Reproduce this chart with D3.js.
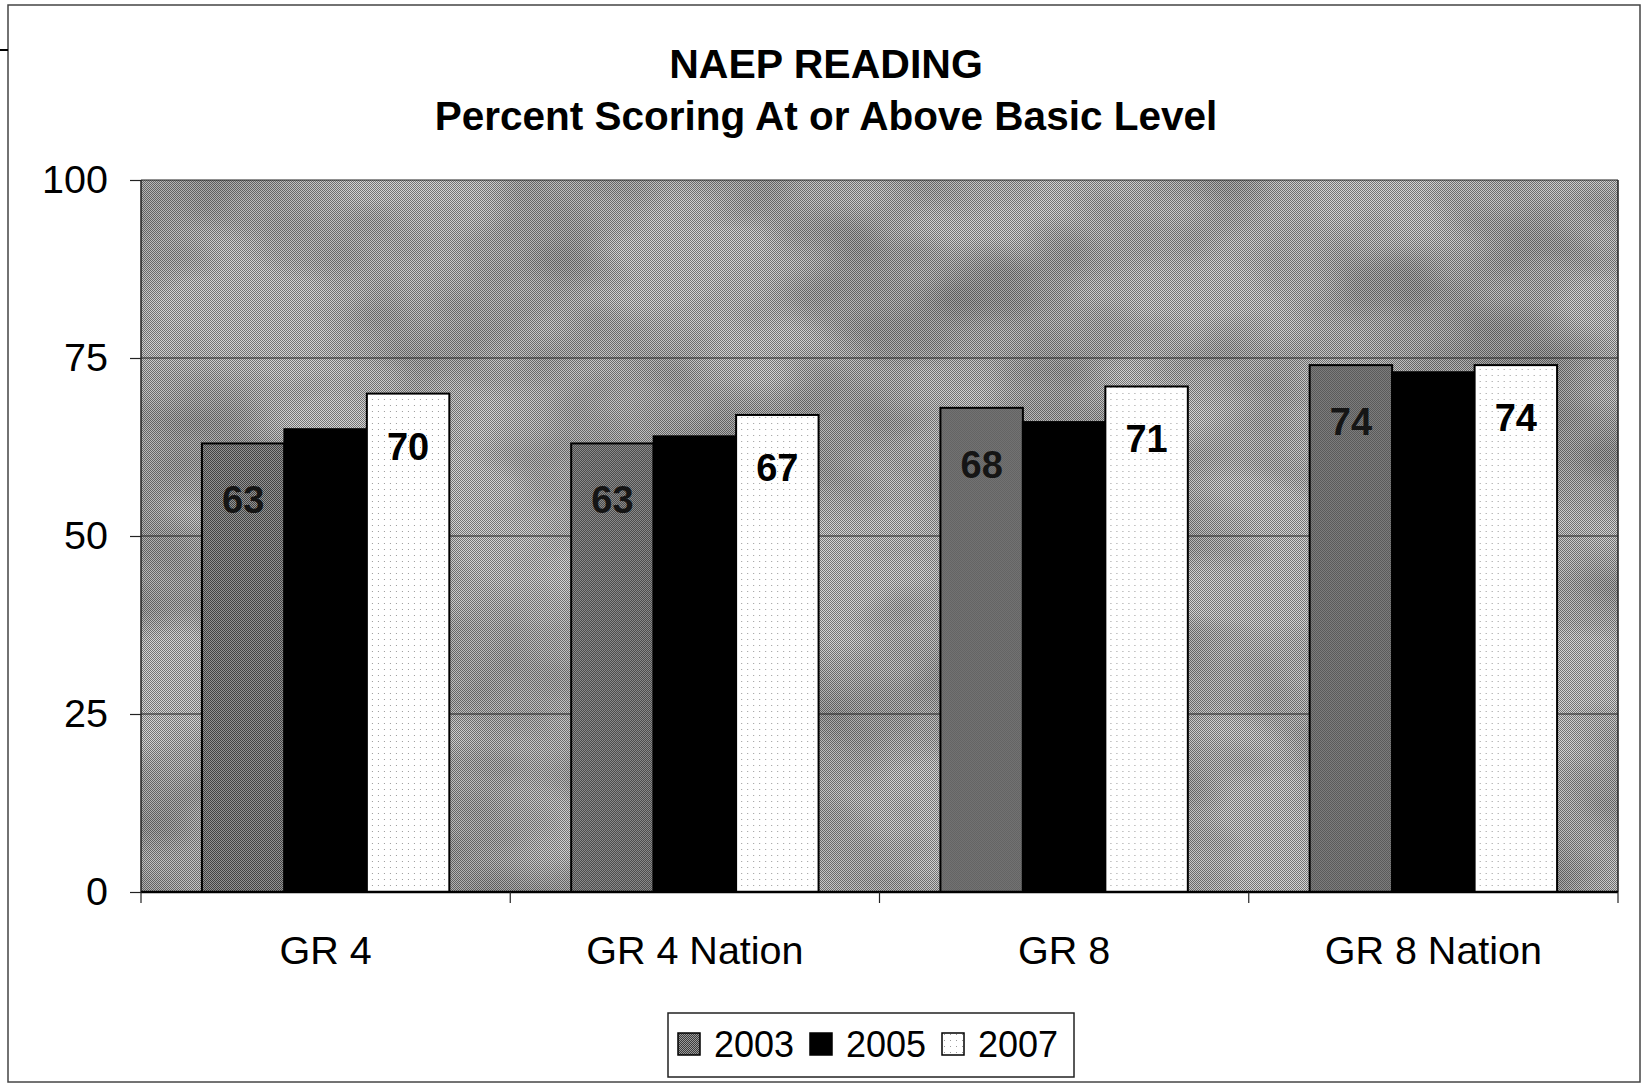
<!DOCTYPE html>
<html>
<head>
<meta charset="utf-8">
<script src="https://cdn.jsdelivr.net/npm/d3@7"></script>
<style>
  body { margin: 0; background: #fff; }
  svg { display: block; font-family: "Liberation Sans", Arial, sans-serif; }
</style>
</head>
<body>
<svg id="chart" width="1644" height="1083"></svg>
<script>
// chart values
var categories = ["GR 4", "GR 4 Nation", "GR 8", "GR 8 Nation"];
var years = ["2003", "2005", "2007"];
var values2003 = [63, 63, 68, 74];
var values2005 = [65, 64, 66, 73];
var values2007 = [70, 67, 71, 74];
var yTicks = [0, 25, 50, 75, 100];
var titleLines = ["NAEP READING", "Percent Scoring At or Above Basic Level"];

var seriesValues = { "2003": values2003, "2005": values2005, "2007": values2007 };
var labelled = { "2003": true, "2005": false, "2007": true };

var svg = d3.select("#chart");
var plot = { left: 141, top: 180, right: 1618, bottom: 892 };

var defs = svg.append("defs");

// dithered grey for the plot background
var bgPat = defs.append("pattern").attr("id", "bgPat")
    .attr("width", 2).attr("height", 2).attr("patternUnits", "userSpaceOnUse");
bgPat.append("rect").attr("width", 2).attr("height", 2).attr("fill", "#d4d4d4");
bgPat.append("rect").attr("width", 1).attr("height", 1).attr("fill", "#747474");
bgPat.append("rect").attr("x", 1).attr("y", 1).attr("width", 1).attr("height", 1).attr("fill", "#747474");

// darker dither for 2003 bars
var p03 = defs.append("pattern").attr("id", "p2003")
    .attr("width", 2).attr("height", 2).attr("patternUnits", "userSpaceOnUse");
p03.append("rect").attr("width", 2).attr("height", 2).attr("fill", "#9a9a9a");
p03.append("rect").attr("width", 1).attr("height", 1).attr("fill", "#3c3c3c");
p03.append("rect").attr("x", 1).attr("y", 1).attr("width", 1).attr("height", 1).attr("fill", "#3c3c3c");

// white with sparse dots for 2007 bars
var p07 = defs.append("pattern").attr("id", "p2007")
    .attr("width", 6).attr("height", 6).attr("patternUnits", "userSpaceOnUse");
p07.append("rect").attr("width", 6).attr("height", 6).attr("fill", "#fff");
p07.append("rect").attr("x", 2).attr("y", 3).attr("width", 1).attr("height", 1).attr("fill", "#9a9a9a");

// soft blotchy shading over the background
var mottle = defs.append("filter").attr("id", "mottle")
    .attr("x", 0).attr("y", 0).attr("width", 1).attr("height", 1);
mottle.append("feTurbulence").attr("type", "fractalNoise")
    .attr("baseFrequency", "0.005 0.008").attr("numOctaves", 3).attr("seed", 7);
mottle.append("feColorMatrix").attr("type", "matrix")
    .attr("values", "0 0 0 0 0  0 0 0 0 0  0 0 0 0 0  0.55 0 0 0 -0.2");
mottle.append("feComposite").attr("in2", "SourceGraphic").attr("operator", "in");

var fills = { "2003": "url(#p2003)", "2005": "#000", "2007": "url(#p2007)" };

// outer chart border
svg.append("rect")
    .attr("x", 8).attr("y", 5).attr("width", 1632).attr("height", 1077)
    .attr("fill", "none").attr("stroke", "#444").attr("stroke-width", 1.5);
svg.append("line").attr("x1", 0).attr("x2", 8).attr("y1", 50).attr("y2", 50)
    .attr("stroke", "#000").attr("stroke-width", 2);

// title
svg.selectAll(".title").data(titleLines).enter().append("text")
    .attr("class", "title")
    .attr("x", 826)
    .attr("y", function(d, i) { return 78 + i * 52; })
    .attr("text-anchor", "middle")
    .style("font-size", function(d, i) { return i === 0 ? "41px" : "40.5px"; })
    .style("font-weight", "bold")
    .text(function(d) { return d; });

var x = d3.scaleBand().domain(categories)
    .range([plot.left, plot.right])
    .paddingInner(0.33).paddingOuter(0.165);
var xs = d3.scaleBand().domain(years).range([0, x.bandwidth()]);
var y = d3.scaleLinear().domain([0, 100]).range([plot.bottom, plot.top]);

// plot background
svg.append("rect")
    .attr("x", plot.left).attr("y", plot.top)
    .attr("width", plot.right - plot.left).attr("height", plot.bottom - plot.top)
    .attr("fill", "url(#bgPat)");
svg.append("rect")
    .attr("x", plot.left).attr("y", plot.top)
    .attr("width", plot.right - plot.left).attr("height", plot.bottom - plot.top)
    .attr("fill", "#fff")
    .attr("filter", "url(#mottle)");

// gridlines
svg.append("g").selectAll("line").data(yTicks.filter(function(t) { return t > 0; }))
    .enter().append("line")
    .attr("x1", plot.left).attr("x2", plot.right)
    .attr("y1", function(d) { return y(d); }).attr("y2", function(d) { return y(d); })
    .attr("stroke", "#222").attr("stroke-width", 1.2);

// plot frame (left, right)
svg.append("line").attr("x1", plot.left).attr("x2", plot.left)
    .attr("y1", plot.top).attr("y2", plot.bottom).attr("stroke", "#222").attr("stroke-width", 1.5);
svg.append("line").attr("x1", plot.right).attr("x2", plot.right)
    .attr("y1", plot.top).attr("y2", plot.bottom).attr("stroke", "#222").attr("stroke-width", 1.5);

// bars
var groups = svg.append("g").selectAll("g").data(categories).enter().append("g")
    .attr("transform", function(d) { return "translate(" + x(d) + ",0)"; });

groups.selectAll("rect")
    .data(function(c, i) { return years.map(function(yr) { return { year: yr, value: seriesValues[yr][i] }; }); })
    .enter().append("rect")
    .attr("x", function(d) { return xs(d.year); })
    .attr("y", function(d) { return y(d.value); })
    .attr("width", xs.bandwidth())
    .attr("height", function(d) { return y(0) - y(d.value); })
    .attr("fill", function(d) { return fills[d.year]; })
    .attr("stroke", "#000")
    .attr("stroke-width", 2);

// data labels (2003 and 2007 only)
var labelDrop = { "2003": 70, "2007": 66 };
groups.selectAll("text")
    .data(function(c, i) {
        return years.filter(function(yr) { return labelled[yr]; })
            .map(function(yr) { return { year: yr, value: seriesValues[yr][i] }; });
    })
    .enter().append("text")
    .attr("x", function(d) { return xs(d.year) + xs.bandwidth() / 2; })
    .attr("y", function(d) { return y(d.value) + labelDrop[d.year]; })
    .attr("text-anchor", "middle")
    .style("font-size", "38px")
    .style("font-weight", "bold")
    .attr("fill", function(d) { return d.year === "2003" ? "#151515" : "#000"; })
    .text(function(d) { return d.value; });

// y axis
var yAxis = svg.append("g")
    .attr("transform", "translate(" + plot.left + ",0)")
    .call(d3.axisLeft(y).tickValues(yTicks).tickSize(11).tickPadding(22));
yAxis.select(".domain").remove();
yAxis.selectAll("line").attr("stroke", "#222").attr("stroke-width", 1.2);
yAxis.selectAll("text").style("font-size", "39.5px").attr("fill", "#000");

// x axis
var xAxis = svg.append("g")
    .attr("transform", "translate(0," + plot.bottom + ")")
    .call(d3.axisBottom(x).tickSize(0).tickPadding(44));
xAxis.select(".domain").remove();
xAxis.selectAll("text").style("font-size", "39.5px").attr("fill", "#000");

svg.append("line").attr("x1", plot.left).attr("x2", plot.right)
    .attr("y1", plot.bottom).attr("y2", plot.bottom)
    .attr("stroke", "#000").attr("stroke-width", 2.5);

var bounds = categories.map(function(c) { return x(c) - x.step() * x.paddingInner() / 2; });
bounds.push(plot.right);
svg.append("g").selectAll("line").data(bounds).enter().append("line")
    .attr("x1", function(d) { return d; }).attr("x2", function(d) { return d; })
    .attr("y1", plot.bottom).attr("y2", plot.bottom + 11)
    .attr("stroke", "#222").attr("stroke-width", 1.2);

// legend
var legend = svg.append("g").attr("transform", "translate(668,1013)");
legend.append("rect")
    .attr("width", 406).attr("height", 64)
    .attr("fill", "#fff").attr("stroke", "#222").attr("stroke-width", 1.5);
var item = legend.selectAll(".item").data(years).enter().append("g")
    .attr("class", "item")
    .attr("transform", function(d, i) { return "translate(" + (10 + i * 132) + ",0)"; });
item.append("rect")
    .attr("y", 20).attr("width", 22).attr("height", 22)
    .attr("fill", function(d) { return fills[d]; })
    .attr("stroke", "#000").attr("stroke-width", 1.5);
item.append("text")
    .attr("x", 36).attr("y", 44)
    .style("font-size", "36px")
    .text(function(d) { return d; });
</script>
</body>
</html>
